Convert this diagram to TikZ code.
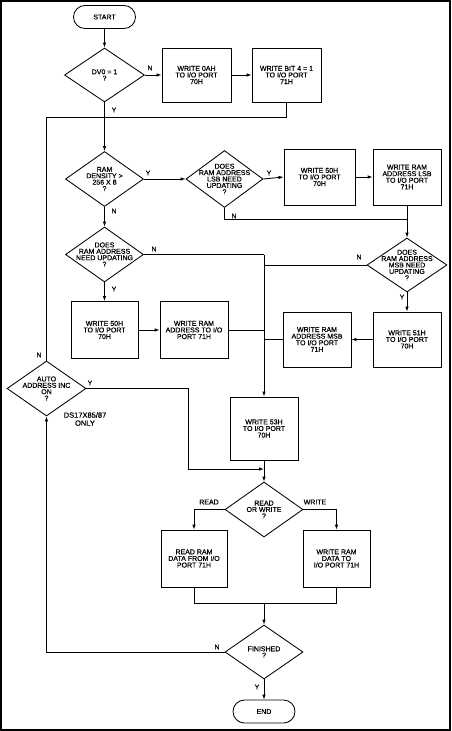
\documentclass[tikz,border=0pt]{standalone}
\usepackage{fontspec}
\setmainfont{Liberation Sans}[FakeBold=0.6]
\usetikzlibrary{shapes.geometric,arrows.meta}
\begin{document}
\begin{tikzpicture}[x=1pt,y=-1pt,
  every node/.style={font=\fontsize{7}{6.6}\selectfont, inner sep=0pt},
  box/.style={draw, line width=0.85pt, rectangle, minimum width=68pt, minimum height=56pt, align=center},
  term/.style={draw, line width=0.85pt, rectangle, rounded corners=11.5pt, minimum width=62pt, minimum height=23pt},
  dec/.style={draw, line width=0.85pt, diamond, minimum width=78pt, minimum height=55pt},
  dtext/.style={align=center, font=\fontsize{7}{6.4}\selectfont},
  lbl/.style={font=\fontsize{7}{7}\selectfont},
  ln/.style={line width=0.85pt},
  arr/.style={line width=0.85pt, -{Latex[length=5pt,width=3.6pt]}}]
\useasboundingbox (0,0) rectangle (451,731);
\draw[line width=1.6pt] (1,1) rectangle (450,730);

% top
\node[term] (start) at (104.5,17) {START};
\node[dec, minimum width=80pt, minimum height=54pt, label={[dtext]center:{DV0 = 1\\?}}] (dv0) at (104.5,75) {};
\node[box, minimum width=69pt, minimum height=54pt] (b0a) at (196.5,75) {WRITE 0AH\\TO I/O PORT\\70H};
\node[box, minimum width=69pt, minimum height=54pt] (bbit) at (286.5,75) {WRITE BIT 4 = 1\\TO I/O PORT\\71H};
\coordinate (ja) at (46.5,117);

% second row
\node[dec, label={[dtext]center:{RAM\\DENSITY >\\256 X 8\\?}}] (ramd) at (104.5,179) {};
\node[dec, minimum width=77pt, minimum height=57pt, label={[dtext]center:{DOES\\RAM ADDRESS\\LSB NEED\\UPDATING\\?}}] (lsb) at (224.5,179) {};
\node[box, minimum width=71pt] (b50) at (319.5,177) {WRITE 50H\\TO I/O PORT\\70H};
\node[box] (blsb) at (407,177) {WRITE RAM\\ADDRESS LSB\\TO I/O PORT\\71H};
\coordinate (jl) at (407,219);

% third row
\node[dec, label={[dtext]center:{DOES\\RAM ADDRESS\\NEED UPDATING\\?}}] (need) at (104.5,254.5) {};
\node[dec, minimum width=80pt, minimum height=54pt, label={[dtext]center:{DOES\\RAM ADDRESS\\MSB NEED\\UPDATING\\?}}] (msb) at (407,265) {};
\coordinate (jn) at (264,254.5);

% fourth row
\node[box, minimum width=67pt, minimum height=57pt] (b50l) at (104.5,330) {WRITE 50H\\TO I/O PORT\\70H};
\node[box, minimum height=57pt] (bra) at (194,330) {WRITE RAM\\ADDRESS TO I/O\\PORT 71H};
\node[box, minimum height=55pt] (bmsb) at (317,339.5) {WRITE RAM\\ADDRESS MSB\\TO I/O PORT\\71H};
\node[box, minimum height=55pt] (b51) at (407,339.5) {WRITE 51H\\TO I/O PORT\\70H};

% auto
\node[dec, minimum width=79pt, label={[dtext]center:{AUTO\\ADDRESS INC\\ON\\?}}] (auto) at (46.5,388.5) {};
\node[lbl, align=center, font=\fontsize{7.5}{8}\selectfont] (only) at (85,419) {DS17X85/87\\ONLY};
\node[box, minimum height=63pt] (b53) at (264,428.5) {WRITE 53H\\TO I/O PORT\\70H};
\coordinate (ya) at (188,469);
\coordinate (jy) at (264,469);

% read/write
\node[dec, label={[dtext]center:{READ\\OR WRITE\\?}}] (rw) at (264,509.5) {};
\node[box, minimum width=66pt, minimum height=57pt] (bread) at (194,558.5) {READ RAM\\DATA FROM I/O\\PORT 71H};
\node[box, minimum width=67pt, minimum height=57pt] (bwrite) at (336.5,558.5) {WRITE RAM\\DATA TO\\I/O PORT 71H};
\coordinate (jb) at (264,603);

% finish
\node[dec, minimum height=54pt, label={[dtext]center:{FINISHED\\?}}] (fin) at (264,652) {};
\node[term] (end) at (264,711.5) {END};

% labels
\node[lbl] (l1) at (150,68) {N};
\node[lbl] (l2) at (114,110) {Y};
\node[lbl] (l3) at (148,173) {Y};
\node[lbl] (l4) at (269,173) {Y};
\node[lbl] (l5) at (234,216) {N};
\node[lbl] (l6) at (114,211) {N};
\node[lbl] (l7) at (154,249) {N};
\node[lbl] (l8) at (359,257) {N};
\node[lbl] (l9) at (402,297) {Y};
\node[lbl] (l10) at (114,289) {Y};
\node[lbl] (l11) at (39,355) {N};
\node[lbl] (l12) at (90,383) {Y};
\node[lbl] (l13) at (209,502) {READ};
\node[lbl] (l14) at (315,502) {WRITE};
\node[lbl] (l15) at (217,647) {N};
\node[lbl] (l16) at (257,687) {Y};

% connectors
\draw[arr] (start) -- (dv0.north);
\draw[arr] (dv0.east) -- (b0a.west);
\draw[arr] (b0a.east) -- (bbit.west);
\draw[ln] (bbit.south) |- (ja);
\draw[ln] (auto.north) -- (ja);
\draw[arr] (dv0.south) -- (ramd.north);
\draw[arr] (ramd.east) -- (lsb.west);
\draw[arr] (lsb.east) -- (b50.west);
\draw[arr] (b50.east) -- (blsb.west);
\draw[ln] (lsb.south) |- (jl);
\draw[arr] (blsb.south) -- (msb.north);
\draw[arr] (ramd.south) -- (need.north);
\draw[arr] (need.south) -- (b50l.north);
\draw[arr] (b50l.east) -- (bra.west);
\draw[arr] (msb.south) -- (b51.north);
\draw[arr] (b51.west) -- (bmsb.east);
\draw[ln] (need.east) -- (jn);
\draw[arr] (jn) -- (b53.north);
\draw[ln] (msb.west) -- (msb.west -| jn);
\draw[ln] (bra.east) -- (bra.east -| jn);
\draw[ln] (bmsb.west) -- (bmsb.west -| jn);
\draw[ln] (auto.east) -| (ya);
\draw[arr] (ya) -- (jy);
\draw[arr] (b53.south) -- (rw.north);
\draw[arr] (rw.west) -| (bread.north);
\draw[arr] (rw.east) -| (bwrite.north);
\draw[ln] (bread.south) |- (jb);
\draw[ln] (bwrite.south) |- (jb);
\draw[arr] (jb) -- (fin.north);
\draw[arr] (fin.west) -| (auto.south);
\draw[arr] (fin.south) -- (end.north);
\end{tikzpicture}
\end{document}
